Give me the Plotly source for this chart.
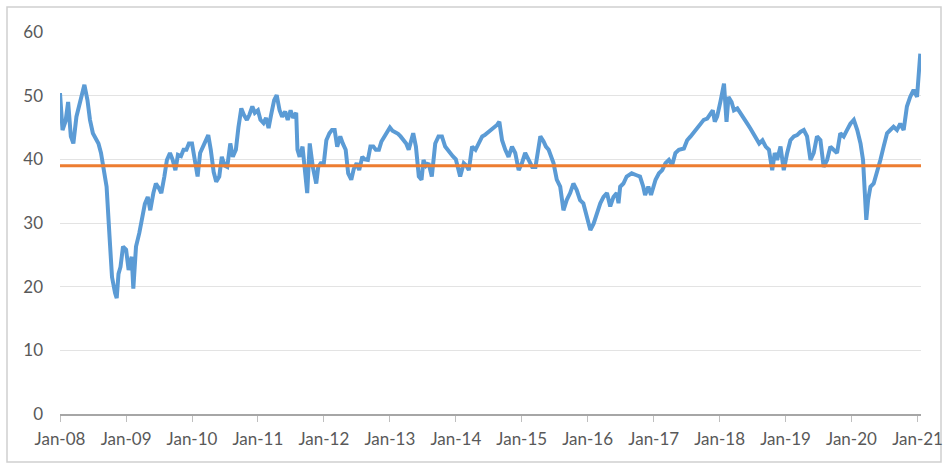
import plotly.graph_objects as go

# ---- data ----
dates = [
    # 2008
    "2008-01-01","2008-01-15","2008-02-01","2008-02-15","2008-03-01","2008-03-15","2008-04-01","2008-04-15",
    "2008-05-01","2008-05-15","2008-06-01","2008-06-15","2008-07-01","2008-07-15","2008-08-01","2008-08-15",
    "2008-09-01","2008-09-15","2008-10-01","2008-10-15","2008-11-01","2008-11-10","2008-11-20","2008-12-01","2008-12-15",
    # 2009
    "2009-01-01","2009-01-15","2009-02-01","2009-02-10","2009-02-25","2009-03-15","2009-04-01","2009-04-15",
    "2009-05-01","2009-05-15","2009-06-01","2009-06-15","2009-07-01","2009-07-15","2009-08-01","2009-08-15",
    "2009-09-01","2009-09-15","2009-10-01","2009-10-15","2009-11-01","2009-11-15","2009-12-01","2009-12-15",
    # 2010
    "2010-01-01","2010-01-15","2010-02-01","2010-02-15","2010-03-01","2010-03-15","2010-04-01","2010-04-15",
    "2010-05-01","2010-05-15","2010-06-01","2010-06-15","2010-07-01","2010-07-15","2010-08-01","2010-08-15",
    "2010-09-01","2010-09-15","2010-10-01","2010-10-15","2010-11-01","2010-11-15","2010-12-01","2010-12-15",
    # 2011
    "2011-01-01","2011-01-15","2011-02-01","2011-02-15","2011-03-01","2011-03-15","2011-04-01","2011-04-15",
    "2011-05-01","2011-05-15","2011-06-01","2011-06-15","2011-07-01","2011-07-15","2011-08-01","2011-08-08",
    "2011-08-20","2011-09-05","2011-09-20","2011-10-01","2011-10-15","2011-11-01","2011-11-20","2011-12-01","2011-12-15",
    # 2012
    "2012-01-01","2012-01-15","2012-02-01","2012-02-15","2012-03-01","2012-03-15","2012-04-01","2012-04-15",
    "2012-05-01","2012-05-15","2012-06-01","2012-06-15","2012-07-01","2012-07-15","2012-08-01","2012-08-15",
    "2012-09-01","2012-09-15","2012-10-01","2012-10-15","2012-11-01","2012-11-15","2012-12-01","2012-12-15",
    # 2013
    "2013-01-01","2013-01-15","2013-02-01","2013-02-15","2013-03-01","2013-03-15","2013-04-01","2013-04-15",
    "2013-05-01","2013-05-10","2013-05-25","2013-06-10","2013-06-25","2013-07-06","2013-07-20","2013-08-03",
    "2013-08-21","2013-09-09","2013-09-27","2013-10-16","2013-11-03","2013-11-15","2013-12-01","2013-12-15",
    # 2014
    "2014-01-01","2014-01-12","2014-01-25","2014-02-14","2014-03-01","2014-03-14","2014-04-01","2014-04-20",
    "2014-05-08","2014-05-27","2014-06-10","2014-06-22","2014-07-05","2014-07-20","2014-08-05","2014-08-17",
    "2014-08-30","2014-09-14","2014-10-02","2014-10-20","2014-11-08","2014-11-26","2014-12-15",
    # 2015
    "2015-01-02","2015-01-20","2015-02-09","2015-02-28","2015-03-18","2015-04-01","2015-04-14","2015-05-02",
    "2015-05-15","2015-05-30","2015-06-12","2015-06-26","2015-07-14","2015-08-02","2015-08-20","2015-09-07",
    "2015-09-26","2015-10-14","2015-11-01","2015-11-20","2015-12-08","2015-12-27",
    # 2016
    "2016-01-16","2016-02-03","2016-02-22","2016-03-11","2016-03-29","2016-04-17","2016-05-05","2016-05-23",
    "2016-06-10","2016-06-20","2016-06-29","2016-07-17","2016-08-04","2016-09-01","2016-09-28","2016-10-17",
    "2016-11-04","2016-11-14","2016-12-02","2016-12-17",
    # 2017
    "2017-01-11","2017-01-30","2017-02-17","2017-03-07","2017-03-26","2017-04-13","2017-05-01","2017-05-20",
    "2017-06-17","2017-07-05","2017-07-24","2017-08-11","2017-08-30","2017-09-17","2017-10-05","2017-10-24",
    "2017-11-11","2017-11-24","2017-12-05","2017-12-18",
    # 2018
    "2018-01-07","2018-01-25","2018-02-08","2018-02-19","2018-03-08","2018-03-21","2018-04-09","2018-05-06",
    "2018-06-03","2018-06-21","2018-07-09","2018-07-28","2018-08-08","2018-08-26","2018-09-13","2018-10-01",
    "2018-10-19","2018-11-02","2018-11-15","2018-12-04","2018-12-22",
    # 2019
    "2019-01-10","2019-01-28","2019-02-16","2019-03-06","2019-03-24","2019-04-12","2019-04-30","2019-05-19",
    "2019-06-06","2019-06-24","2019-07-13","2019-07-31","2019-08-19","2019-09-06","2019-09-24","2019-10-13",
    "2019-10-31","2019-11-19","2019-12-07","2019-12-26",
    # 2020-21
    "2020-01-14","2020-02-02","2020-02-20","2020-03-05","2020-03-15","2020-03-23","2020-04-02","2020-04-15",
    "2020-05-03","2020-05-21","2020-06-09","2020-06-27","2020-07-16","2020-08-03","2020-08-21","2020-09-09",
    "2020-09-27","2020-10-16","2020-11-03","2020-11-21","2020-12-10","2020-12-29","2021-01-07","2021-01-16",
]

values = [
    # 2008
    50.4, 44.6, 46.0, 49.0, 43.6, 42.5, 46.7, 48.3,
    50.4, 51.7, 49.3, 46.2, 44.1, 43.5, 42.5, 41.0,
    37.8, 35.7, 28.0, 21.5, 19.0, 18.2, 22.0, 23.1, 26.3,
    # 2009
    25.8, 22.6, 24.7, 19.7, 26.3, 28.4, 31.0, 33.0,
    34.1, 32.0, 34.7, 36.2, 35.5, 34.7, 37.3, 39.9,
    41.0, 40.0, 38.3, 40.7, 40.5, 41.5, 41.5, 42.5,
    # 2010
    42.5, 40.0, 37.3, 41.0, 42.0, 43.0, 43.8, 41.5,
    38.0, 36.5, 37.3, 40.4, 39.0, 38.8, 42.5, 40.4,
    41.5, 45.0, 48.0, 47.0, 46.2, 47.0, 48.3, 47.3,
    # 2011
    47.7, 46.2, 45.7, 46.5, 44.9, 47.0, 49.3, 50.1,
    47.7, 46.7, 47.5, 46.2, 47.7, 46.5, 47.3, 41.5,
    40.4, 42.0, 37.0, 34.7, 42.5, 38.8, 36.2, 38.8, 39.4,
    # 2012
    39.4, 43.0, 44.1, 44.6, 44.6, 42.0, 43.6, 42.5,
    41.5, 37.8, 36.8, 38.5, 39.4, 38.3, 40.4, 40.0,
    39.9, 42.0, 42.0, 41.5, 41.5, 42.8, 43.5, 44.1,
    # 2013
    45.0, 44.5, 44.3, 44.0, 43.6, 43.0, 42.5, 41.5,
    43.5, 44.1, 42.0, 37.3, 36.8, 39.9, 39.0, 39.4,
    37.3, 42.5, 43.6, 43.6, 42.0, 41.5, 41.0, 40.5,
    # 2014
    40.0, 39.0, 37.3, 39.4, 39.0, 38.3, 42.0, 41.5,
    42.5, 43.6, 43.8, 44.1, 44.3, 44.6, 45.0, 45.4,
    45.9, 43.0, 41.5, 40.4, 42.0, 41.0, 38.3,
    # 2015
    39.4, 41.0, 39.9, 38.8, 38.8, 41.5, 43.6, 42.8,
    42.0, 41.5, 40.5, 39.4, 36.8, 35.7, 32.0, 33.6,
    34.7, 36.2, 35.2, 33.6, 33.1, 31.0,
    # 2016
    28.9, 29.9, 31.5, 33.1, 34.1, 34.7, 32.6, 34.1,
    34.7, 33.1, 35.7, 36.2, 37.3, 37.8, 37.5, 37.3,
    35.7, 34.4, 35.7, 34.4,
    # 2017
    36.8, 37.8, 38.3, 39.4, 39.9, 39.1, 41.0, 41.5,
    41.7, 43.0, 43.6, 44.3, 44.9, 45.6, 46.2, 46.4,
    47.2, 47.7, 45.9, 46.7,
    # 2018
    49.3, 51.9, 45.9, 49.8, 49.0, 47.7, 48.0, 46.7,
    45.6, 44.8, 44.0, 43.0, 42.5, 43.0, 42.0, 41.5,
    38.3, 41.0, 39.9, 42.0, 38.3,
    # 2019
    41.0, 43.0, 43.6, 43.8, 44.3, 44.6, 43.6, 39.9,
    41.0, 43.6, 43.0, 38.8, 39.9, 42.0, 41.5, 41.0,
    44.1, 43.6, 44.6, 45.6,
    # 2020-21
    46.2, 44.6, 42.5, 39.9, 34.7, 30.5, 33.6, 35.7,
    36.2, 37.8, 39.9, 42.0, 44.1, 44.6, 45.1, 44.6,
    45.6, 44.6, 48.3, 49.8, 50.9, 49.8, 53.5, 56.6,
]

average_value = 39.0
tick_dates = ["%d-01-01" % y for y in range(2008, 2022)]
tick_labels = ["Jan-%02d" % (y % 100) for y in range(2008, 2022)]
y_ticks = [0, 10, 20, 30, 40, 50, 60]

x_start = "2008-01-01"
x_end = "2021-01-20"

fig = go.Figure()
fig.add_trace(go.Scatter(
    x=dates, y=values, mode="lines",
    line=dict(color="#5B9BD5", width=4),
    showlegend=False, hoverinfo="skip",
))
fig.add_trace(go.Scatter(
    x=[x_start, x_end], y=[average_value, average_value], mode="lines",
    line=dict(color="#ED7D31", width=3),
    showlegend=False, hoverinfo="skip",
))

font_family = "Lato, 'Open Sans', sans-serif"

W, H = 945, 466
L, R, T, B = 60, 24, 32, 52
pw, ph = W - L - R, H - T - B

fig.update_layout(
    width=W, height=H,
    margin=dict(l=L, r=R, t=T, b=B, autoexpand=False),
    paper_bgcolor="white", plot_bgcolor="white",
    font=dict(family=font_family, size=17, color="#595959"),
    hovermode=False,
    shapes=[dict(
        type="rect", xref="paper", yref="paper",
        x0=(7 - L) / pw, x1=(941 - L) / pw,
        y0=-(462 - (H - B)) / ph, y1=1 + (T - 7) / ph,
        line=dict(color="#d0d0d0", width=1.5), fillcolor="rgba(0,0,0,0)",
        layer="below",
    )],
)

fig.update_xaxes(
    type="date", range=[x_start, x_end], automargin=False,
    tickvals=tick_dates, ticktext=tick_labels,
    showgrid=False, showline=True, linecolor="#a6a6a6", linewidth=2,
    ticks="outside", ticklen=6, tickcolor="#bfbfbf", tickwidth=1,
    ticklabelstandoff=3,
    tickfont=dict(size=17, color="#595959"),
    zeroline=False,
)
fig.update_yaxes(
    range=[0, 60], tickvals=y_ticks, automargin=False,
    showgrid=True, gridcolor="#e3e3e3", gridwidth=1,
    showline=False, zeroline=False,
    ticks="", ticklabelstandoff=16,
    tickfont=dict(size=17, color="#595959"),
)

fig.write_html(
    "out.html",
    config={"displayModeBar": False, "responsive": False},
    post_script="document.body.style.margin='0';document.body.style.overflow='hidden';",
)
